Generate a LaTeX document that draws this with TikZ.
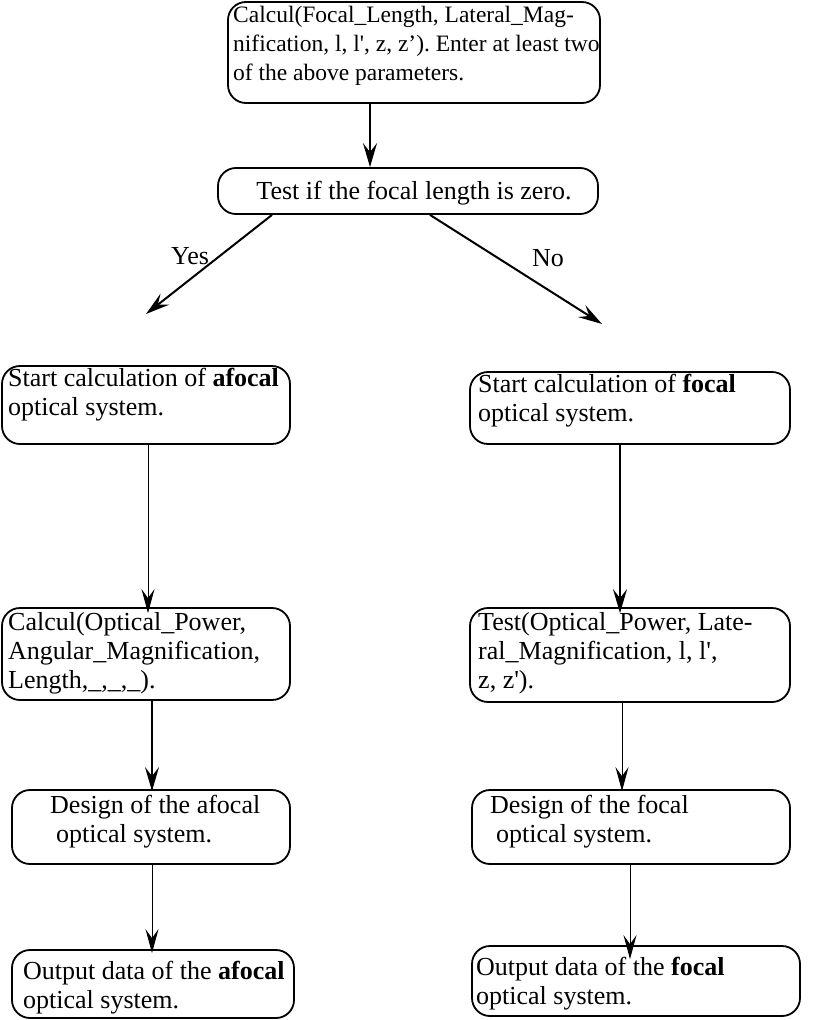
\documentclass[tikz,border=0pt]{standalone}
\usepackage{fontspec}
\setmainfont{Liberation Serif}
\usetikzlibrary{arrows.meta}
\frenchspacing
\begin{document}
\begin{tikzpicture}[x=1pt,y=-1pt,
  box/.style={draw, line width=1.8pt, rounded corners=18pt, inner sep=0pt},
  txt/.style={inner sep=0pt, anchor=north west, align=left,
    font=\fontsize{26}{29}\selectfont},
  lbl/.style={inner sep=0pt, anchor=base, font=\fontsize{26}{29}\selectfont},
  heavy/.style={line width=2pt, -{Stealth[length=24pt,width=14pt,inset=9pt]}},
  light/.style={line width=1pt, -{Stealth[length=24pt,width=13pt,inset=9pt]}}]
\useasboundingbox (0,0) rectangle (814,1020);

% boxes
\node[box, minimum width=372pt, minimum height=101pt] (b1) at (414,52.5) {};
\node[box, minimum width=380pt, minimum height=46pt] (b2) at (408,191) {};
\node[box, minimum width=288pt, minimum height=78pt] (b3) at (146,405) {};
\node[box, minimum width=320pt, minimum height=72pt] (b4) at (630,408) {};
\node[box, minimum width=288pt, minimum height=92pt] (b5) at (146,654) {};
\node[box, minimum width=320pt, minimum height=94pt] (b6) at (630,655) {};
\node[box, minimum width=278pt, minimum height=74pt] (b7) at (151,827) {};
\node[box, minimum width=318pt, minimum height=74pt] (b8) at (631,827) {};
\node[box, minimum width=282pt, minimum height=68pt] (b9) at (153,984) {};
\node[box, minimum width=328pt, minimum height=70pt] (b10) at (636,981) {};

% texts (each starts with a strut: top edge = first baseline - 20.3pt)
\node[txt, font=\fontsize{23.5}{29}\selectfont] (t1) at (233,1.7) {\strut Calcul(Focal\_Length, Lateral\_Mag-\\nification, l, l\textquotesingle, z, z'). Enter at least two\\of the above parameters.};
\node[lbl] (t2) at (414,199) {Test if the focal length is zero.};
\node[txt] (t3) at (8,366.2) {\strut Start calculation of \textbf{afocal}\\optical system.};
\node[txt] (t4) at (478,371.7) {\strut Start calculation of \textbf{focal}\\optical system.};
\node[txt] (t5) at (8,609.7) {\strut Calcul(Optical\_Power,\\Angular\_Magnification,\\Length,\_,\_,\_).};
\node[txt] (t6) at (478,609.7) {\strut Test(Optical\_Power, Late-\\ral\_Magnification, l, l\textquotesingle,\\z, z\textquotesingle).};
\node[txt] (t7) at (50,792.7) {\strut Design of the afocal\\\hspace*{6pt}optical system.};
\node[txt] (t8) at (490,792.7) {\strut Design of the focal\\\hspace*{6pt}optical system.};
\node[txt] (t9) at (23,958.7) {\strut Output data of the \textbf{afocal}\\optical system.};
\node[txt] (t10) at (476,954.7) {\strut Output data of the \textbf{focal}\\optical system.};

% branch labels
\node[lbl] (yes) at (190,264) {Yes};
\node[lbl] (no) at (548,266) {No};

% arrow columns and free ends
\coordinate (cTop) at (370,0);
\coordinate (cL1) at (148,0);
\coordinate (cL2) at (152,0);
\coordinate (cR1) at (620,0);
\coordinate (cR2) at (622,0);
\coordinate (cR3) at (630,0);
\coordinate (ys) at (272,0);
\coordinate (ns) at (430,0);
\coordinate (yend) at (146,314);
\coordinate (nend) at (602,324);

% connectors
\draw[heavy] (b1.south -| cTop) -- (b2.north -| cTop);
\draw[heavy] (b2.south -| ys) -- (yend);
\draw[heavy] (b2.south -| ns) -- (nend);
\draw[light] (b3.south -| cL1) -- ([yshift=-6pt]b5.north -| cL1);
\draw[heavy] (b4.south -| cR1) -- ([yshift=-6pt]b6.north -| cR1);
\draw[heavy] (b5.south -| cL2) -- ([yshift=-2pt]b7.north -| cL2);
\draw[light] (b6.south -| cR2) -- ([yshift=-2pt]b8.north -| cR2);
\draw[light] (b7.south -| cL2) -- ([yshift=-4pt]b9.north -| cL2);
\draw[light] (b8.south -| cR3) -- ([yshift=-14pt]b10.north -| cR3);
\end{tikzpicture}
\end{document}
